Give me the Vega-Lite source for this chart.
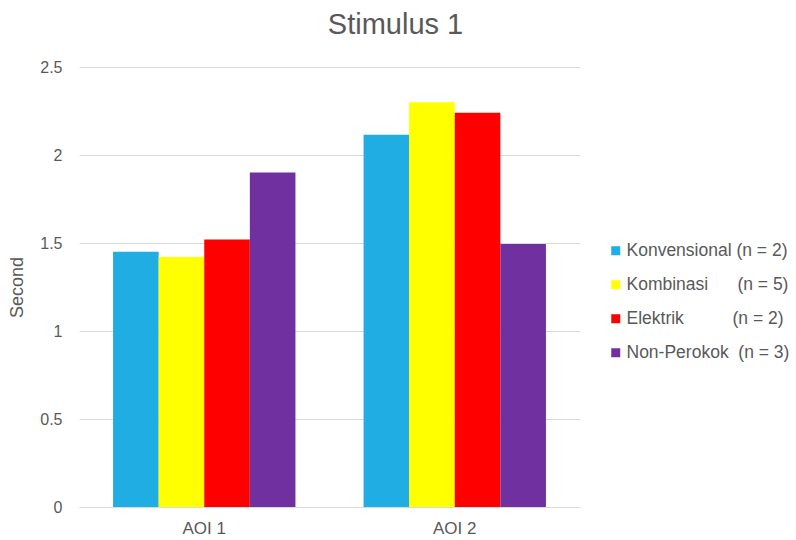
{
  "$schema": "https://vega.github.io/schema/vega-lite/v6.json",
  "width": 501,
  "height": 440,
  "autosize": "none",
  "padding": {"left": 79, "top": 67, "right": 216, "bottom": 33},
  "background": "white",
  "title": {
    "text": "Stimulus 1",
    "fontSize": 29,
    "fontWeight": "normal",
    "color": "#595959",
    "anchor": "middle",
    "dx": 66,
    "offset": 19
  },
  "data": {
    "values": [
      {"aoi": "AOI 1", "group": "Konvensional (n = 2)", "value": 1.45},
      {"aoi": "AOI 1", "group": "Kombinasi\u00a0\u00a0\u00a0\u00a0\u00a0\u00a0(n = 5)", "value": 1.42},
      {"aoi": "AOI 1", "group": "Elektrik\u00a0\u00a0\u00a0\u00a0\u00a0\u00a0\u00a0\u00a0\u00a0\u00a0(n = 2)", "value": 1.52},
      {"aoi": "AOI 1", "group": "Non-Perokok\u00a0\u00a0(n = 3)", "value": 1.9},
      {"aoi": "AOI 2", "group": "Konvensional (n = 2)", "value": 2.115},
      {"aoi": "AOI 2", "group": "Kombinasi\u00a0\u00a0\u00a0\u00a0\u00a0\u00a0(n = 5)", "value": 2.3},
      {"aoi": "AOI 2", "group": "Elektrik\u00a0\u00a0\u00a0\u00a0\u00a0\u00a0\u00a0\u00a0\u00a0\u00a0(n = 2)", "value": 2.24},
      {"aoi": "AOI 2", "group": "Non-Perokok\u00a0\u00a0(n = 3)", "value": 1.495}
    ]
  },
  "mark": {"type": "bar"},
  "encoding": {
    "x": {
      "field": "aoi",
      "type": "nominal",
      "title": null,
      "scale": {"paddingInner": 0.272, "paddingOuter": 0.136},
      "axis": {
        "labelAngle": 0,
        "ticks": false,
        "domainColor": "#d9d9d9",
        "labelPadding": 13,
        "labelFontSize": 17
      }
    },
    "xOffset": {
      "field": "group",
      "type": "nominal",
      "sort": null,
      "scale": {"paddingInner": 0, "paddingOuter": 0}
    },
    "y": {
      "field": "value",
      "type": "quantitative",
      "title": "Second",
      "scale": {"domain": [0, 2.5], "nice": false},
      "axis": {
        "values": [0, 0.5, 1, 1.5, 2, 2.5],
        "format": ".1~f",
        "domain": false,
        "ticks": false,
        "gridColor": "#d9d9d9",
        "labelPadding": 17,
        "labelFontSize": 16,
        "titleFontSize": 18,
        "titlePadding": 13
      }
    },
    "color": {
      "field": "group",
      "type": "nominal",
      "sort": null,
      "scale": {
        "domain": [
          "Konvensional (n = 2)",
          "Kombinasi\u00a0\u00a0\u00a0\u00a0\u00a0\u00a0(n = 5)",
          "Elektrik\u00a0\u00a0\u00a0\u00a0\u00a0\u00a0\u00a0\u00a0\u00a0\u00a0(n = 2)",
          "Non-Perokok\u00a0\u00a0(n = 3)"
        ],
        "range": ["#1fade3", "#ffff00", "#ff0000", "#7030a0"]
      },
      "legend": {
        "title": null,
        "orient": "none",
        "legendX": 528,
        "legendY": 175,
        "symbolType": "square",
        "symbolSize": 81,
        "symbolStrokeWidth": 0,
        "rowPadding": 15,
        "labelOffset": 2,
        "labelFontSize": 17.5
      }
    }
  },
  "config": {
    "font": "Liberation Sans",
    "view": {"stroke": null},
    "axis": {
      "labelColor": "#595959",
      "titleFontWeight": "normal",
      "titleColor": "#595959",
      "gridColor": "#d9d9d9"
    },
    "legend": {
      "labelColor": "#595959",
      "labelLimit": 300
    }
  }
}
